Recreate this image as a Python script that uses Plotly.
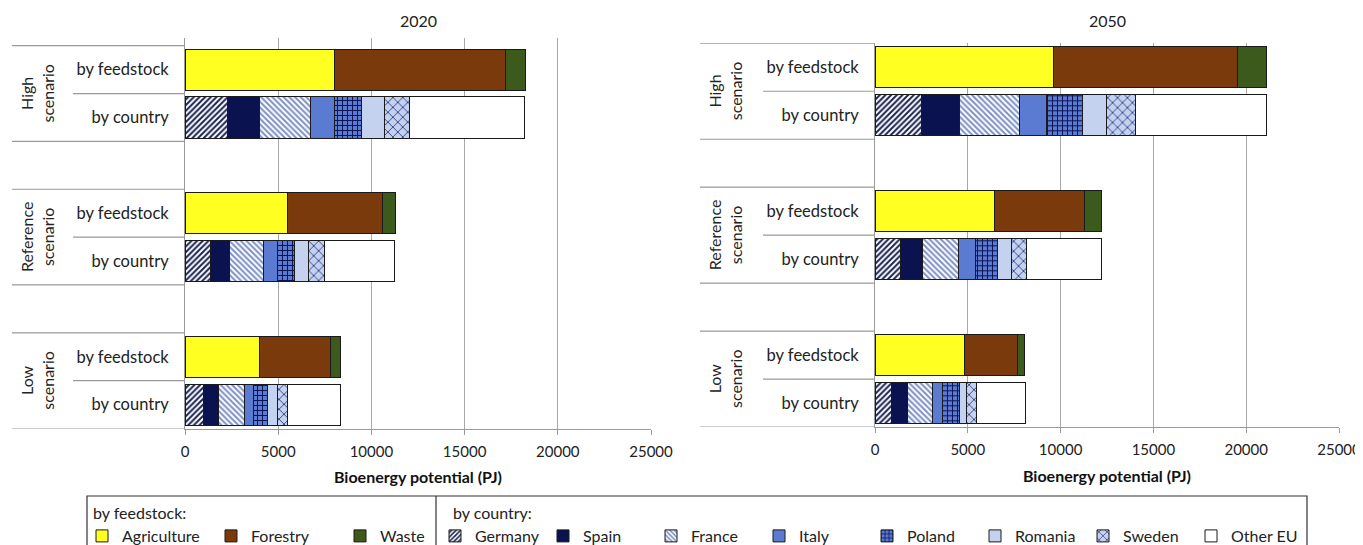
import plotly.graph_objects as go

W, H = 1363, 545
OFF = 8  # page body margin of the browser (pixels)

# ---------------- data ----------------
scenarios = ["High", "Reference", "Low"]
years = ["2020", "2050"]
row_labels = ["by feedstock", "by country"]
feedstock_names = ["Agriculture", "Forestry", "Waste"]
country_names = ["Germany", "Spain", "France", "Italy", "Poland", "Romania", "Sweden", "Other EU"]
legend_titles = ["by feedstock:", "by country:"]
x_ticks = [0, 5000, 10000, 15000, 20000, 25000]

# 2020 (PJ), order: High, Reference, Low
agriculture_2020 = [8000, 5500, 3970]
forestry_2020 = [9200, 5070, 3850]
waste_2020 = [1050, 700, 540]
germany_2020 = [2300, 1360, 990]
spain_2020 = [1670, 1010, 800]
france_2020 = [2770, 1850, 1410]
italy_2020 = [1270, 750, 470]
poland_2020 = [1480, 920, 775]
romania_2020 = [1200, 730, 515]
sweden_2020 = [1380, 840, 565]
other_eu_2020 = [6170, 3800, 2840]

# 2050 (PJ)
agriculture_2050 = [9600, 6420, 4800]
forestry_2050 = [9940, 4870, 2860]
waste_2050 = [1570, 940, 420]
germany_2050 = [2480, 1380, 890]
spain_2050 = [2090, 1170, 870]
france_2050 = [3190, 1970, 1340]
italy_2050 = [1500, 910, 560]
poland_2050 = [1920, 1170, 890]
romania_2050 = [1290, 730, 400]
sweden_2050 = [1550, 820, 515]
other_eu_2050 = [7100, 4080, 2620]

feedstock_data = {
    "2020": [agriculture_2020, forestry_2020, waste_2020],
    "2050": [agriculture_2050, forestry_2050, waste_2050],
}
country_data = {
    "2020": [germany_2020, spain_2020, france_2020, italy_2020, poland_2020,
             romania_2020, sweden_2020, other_eu_2020],
    "2050": [germany_2050, spain_2050, france_2050, italy_2050, poland_2050,
             romania_2050, sweden_2050, other_eu_2050],
}

# ---------------- styles ----------------
NAVY = "#0b1250"
ITALY = "#5b7bd3"
ROMANIA = "#c4d2ef"
feedstock_styles = [
    dict(color="#ffff22"),
    dict(color="#7b3a0c"),
    dict(color="#3c5a1c"),
]
country_styles = [
    dict(color="#ffffff", pattern=dict(shape="/", fgcolor="#1a2350", bgcolor="#ffffff", size=4, solidity=0.5)),
    dict(color=NAVY),
    dict(color="#ffffff", pattern=dict(shape="\\", fgcolor="#7d90c6", bgcolor="#ffffff", size=4, solidity=0.5)),
    dict(color=ITALY),
    dict(color=ITALY, pattern=dict(shape="+", fgcolor=NAVY, bgcolor=ITALY, size=5, solidity=0.35)),
    dict(color=ROMANIA),
    dict(color=ROMANIA, pattern=dict(shape="x", fgcolor="#34458a", bgcolor=ROMANIA, size=7, solidity=0.25)),
    dict(color="#ffffff"),
]

FONT = "Lato"
LINE = "#9a9a9a"
GRID = "#a8a8a8"


def px(xp):
    return (xp - OFF) / W


def py(yp):
    return 1 - (yp - OFF) / H


fs_pos = [3 * i for i in range(len(scenarios))]
ct_pos = [3 * i + 1 for i in range(len(scenarios))]

fig = go.Figure()

for p, yr in enumerate(years):
    xa = "x" if p == 0 else "x2"
    ya = "y" if p == 0 else "y2"
    for name, vals, st in zip(feedstock_names, feedstock_data[yr], feedstock_styles):
        marker = dict(color=st["color"], line=dict(color="#1a1a1a", width=1))
        fig.add_trace(go.Bar(x=vals, y=fs_pos, orientation="h", name=name, marker=marker,
                             width=0.86, xaxis=xa, yaxis=ya, showlegend=(p == 0),
                             legend="legend"))
    for name, vals, st in zip(country_names, country_data[yr], country_styles):
        marker = dict(color=st["color"], line=dict(color="#1a1a1a", width=1))
        if "pattern" in st:
            marker["pattern"] = dict(fillmode="replace", **st["pattern"])
        fig.add_trace(go.Bar(x=vals, y=ct_pos, orientation="h", name=name, marker=marker,
                             width=0.86, xaxis=xa, yaxis=ya, showlegend=(p == 0),
                             legend="legend2"))

# panel geometry (screen pixels)
panels = [
    dict(x0=185, x1=651, ytop=38, ybot=428.5, yr=[7.5, -0.661], lab0=12, labp=73, scen_x=37),
    dict(x0=875, x1=1339, ytop=43.3, ybot=427, yr=[7.5, -0.5], lab0=700, labp=763, scen_x=725),
]

xaxis_common = dict(range=[0, 25000], tickvals=x_ticks, tickformat="d", showgrid=True,
                    gridcolor=GRID, gridwidth=1,
                    showline=True, linecolor=LINE, linewidth=1, ticks="outside", ticklen=5,
                    tickcolor=LINE, zeroline=False, tickfont=dict(size=15, color="#222"),
                    ticklabelstandoff=4, automargin=False,
                    title=dict(text="<b>Bioenergy potential (PJ)</b>", font=dict(size=16, color="#111"),
                               standoff=13))
yaxis_common = dict(tickvals=fs_pos + ct_pos,
                    ticktext=[row_labels[0]] * 3 + [row_labels[1]] * 3,
                    showgrid=False, zeroline=False, showline=True, linecolor=LINE, linewidth=1,
                    ticks="", tickfont=dict(size=16.5, color="#222"), ticklabelstandoff=12,
                    automargin=False)

layout = dict(width=W, height=H, margin=dict(l=0, r=0, t=0, b=0, autoexpand=False),
              paper_bgcolor="white", plot_bgcolor="white", barmode="stack",
              font=dict(family=FONT, color="#222"), showlegend=True)
for p, g in enumerate(panels):
    sx = "" if p == 0 else "2"
    layout["xaxis" + sx] = dict(xaxis_common, domain=[px(g["x0"]), px(g["x1"])], anchor="y" + sx)
    layout["yaxis" + sx] = dict(yaxis_common, domain=[py(g["ybot"]), py(g["ytop"])], range=g["yr"],
                                anchor="x" + sx)

legend_common = dict(orientation="h", xref="container", yref="container",
                     xanchor="left", yanchor="top", itemwidth=30, entrywidthmode="pixels",
                     font=dict(size=16, color="#222"), bgcolor="rgba(0,0,0,0)", borderwidth=0,
                     traceorder="normal", tracegroupgap=0)
layout["legend"] = dict(legend_common, x=px(82), y=py(519), entrywidth=84)
layout["legend2"] = dict(legend_common, x=px(435), y=py(519), entrywidth=63)
fig.update_layout(**layout)

shapes = []
annotations = []
for p, g in enumerate(panels):
    yref = "y" if p == 0 else "y2"
    for yv in [-0.5, 1.5, 2.5, 4.5, 5.5, 7.5]:
        shapes.append(dict(type="line", xref="paper", yref=yref, x0=px(g["lab0"]), x1=px(g["x0"]),
                           y0=yv, y1=yv, line=dict(color=LINE, width=1.2)))
    for yv in [0.5, 3.5, 6.5]:
        shapes.append(dict(type="line", xref="paper", yref=yref, x0=px(g["labp"]), x1=px(g["x0"]),
                           y0=yv, y1=yv, line=dict(color=LINE, width=1.2)))
    for i, s in enumerate(scenarios):
        annotations.append(dict(text=f"{s}<br>scenario", xref="paper", yref=yref,
                                x=px(g["scen_x"]), y=fs_pos[i] + 0.5, textangle=-90,
                                showarrow=False, font=dict(size=16, color="#222"),
                                xanchor="center", yanchor="middle"))
    annotations.append(dict(text=years[p], xref=("x" if p == 0 else "x2") + " domain", yref="paper",
                            x=0.5, y=py(20), showarrow=False, font=dict(size=16, color="#222"),
                            xanchor="center", yanchor="middle"))

# legend headings and frame
for t, xh in zip(legend_titles, [91, 451]):
    annotations.append(dict(text=t, xref="paper", yref="paper", x=px(xh), y=py(512),
                            showarrow=False, font=dict(size=16, color="#222"),
                            xanchor="left", yanchor="middle"))
shapes.append(dict(type="rect", xref="paper", yref="paper", x0=px(87), x1=px(1307),
                   y0=py(560), y1=py(496), line=dict(color="#333", width=1.2)))
shapes.append(dict(type="line", xref="paper", yref="paper", x0=px(436), x1=px(436),
                   y0=py(560), y1=py(496), line=dict(color="#333", width=1.2)))

fig.update_layout(shapes=shapes, annotations=annotations)
fig.write_html("out.html")
